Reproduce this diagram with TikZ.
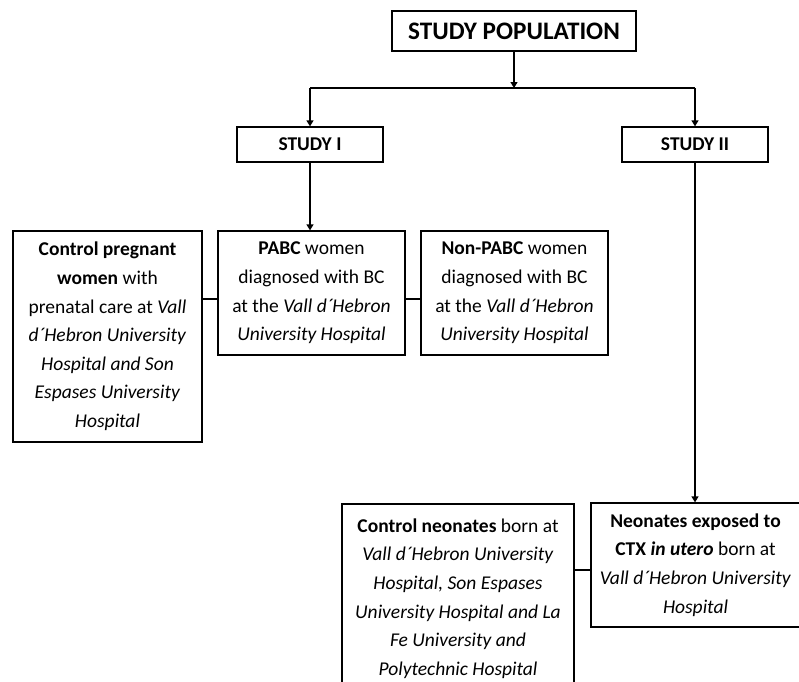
\documentclass[tikz,border=0pt]{standalone}
\usepackage{fontspec}
\setmainfont{Carlito}
\usetikzlibrary{arrows.meta}
\begin{document}
\begin{tikzpicture}[x=1pt,y=-1pt,
  box/.style={draw=black,line width=1.3pt,fill=white,align=center,inner sep=2pt,
    font=\fontsize{19.5}{28.6}\selectfont},
  head/.style={draw=black,line width=1.3pt,fill=white,align=center,inner sep=2pt,
    font=\fontsize{19.5}{22}\selectfont\bfseries},
  conn/.style={line width=1.3pt},
  arr/.style={line width=1.3pt,-{Triangle[length=6pt,width=7pt]}}]
\useasboundingbox (0,0) rectangle (799,681);
% headers
\node[head,minimum width=244,minimum height=40,font=\fontsize{25.2}{28}\selectfont\bfseries] (pop) at (514,31) {STUDY POPULATION};
\node[head,minimum width=146,minimum height=35] (s1) at (310,144.5) {STUDY I};
\node[head,minimum width=146,minimum height=35] (s2) at (695,144.5) {STUDY II};
% study I boxes
\node[box,minimum width=189,minimum height=211] (ctrl) at (107.5,336.5)
  {\textbf{Control pregnant}\\\textbf{women} with\\prenatal care at \textit{Vall}\\\textit{d´Hebron University}\\\textit{Hospital and Son}\\\textit{Espases University}\\\textit{Hospital}};
\node[box,minimum width=187,minimum height=124] (pabc) at (311.5,293)
  {\textbf{PABC} women\\diagnosed with BC\\at the \textit{Vall d´Hebron}\\\textit{University Hospital}};
\node[box,minimum width=187,minimum height=124] (npabc) at (514.5,293)
  {\textbf{Non-PABC} women\\diagnosed with BC\\at the \textit{Vall d´Hebron}\\\textit{University Hospital}};
% study II boxes
\node[box,minimum width=232,minimum height=189] (cneo) at (458,598.5)
  {\textbf{Control neonates} born at\\\textit{Vall d´Hebron University}\\\textit{Hospital, Son Espases}\\\textit{University Hospital and La}\\\textit{Fe University and}\\\textit{Polytechnic Hospital}};
\node[box,minimum width=209,minimum height=124] (eneo) at (695.5,565)
  {\textbf{Neonates exposed to}\\\textbf{CTX \textit{in utero}} born at\\\textit{Vall d´Hebron University}\\\textit{Hospital}};
% connectors
\coordinate (split) at (514,88);
\coordinate (hl) at (310,88);
\coordinate (hr) at (695,88);
\coordinate (ya) at (0,299);
\coordinate (yb) at (0,570);
\draw[arr] (pop.south) -- (split);
\draw[conn] (hl) -- (hr);
\draw[arr] (hl) -- (s1.north);
\draw[arr] (hr) -- (s2.north);
\draw[arr] (s1.south) -- (s1.south |- pabc.north);
\draw[conn] (ctrl.east |- ya) -- (pabc.west |- ya);
\draw[conn] (pabc.east |- ya) -- (npabc.west |- ya);
\draw[arr] (s2.south) -- (s2.south |- eneo.north);
\draw[conn] (cneo.east |- yb) -- (eneo.west |- yb);
\end{tikzpicture}
\end{document}
